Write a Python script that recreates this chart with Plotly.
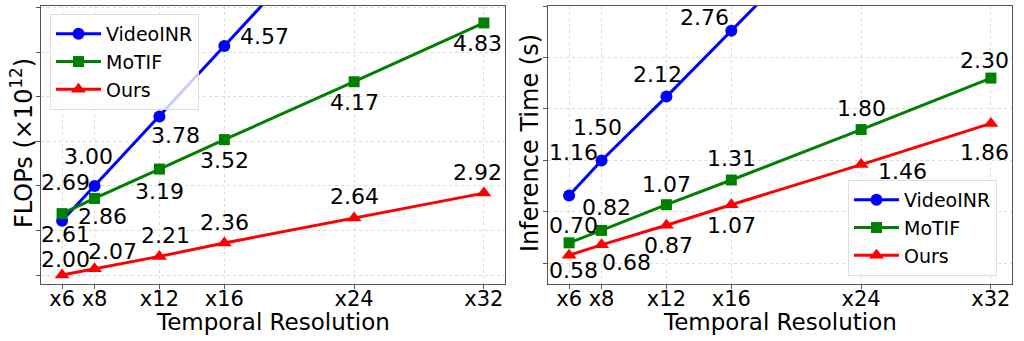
import plotly.graph_objects as go

scales = [6, 8, 12, 16, 24, 32]
tick_labels = ["x6", "x8", "x12", "x16", "x24", "x32"]

# FLOPs (x10^12); VideoINR beyond x16 runs off the top of the axis (estimated)
flops_videoinr = [2.61, 3.00, 3.78, 4.57, 6.15, 7.73]
flops_motif = [2.69, 2.86, 3.19, 3.52, 4.17, 4.83]
flops_ours = [2.00, 2.07, 2.21, 2.36, 2.64, 2.92]

# Inference time (s); VideoINR beyond x16 runs off the top of the axis (estimated)
time_videoinr = [1.16, 1.50, 2.12, 2.76, 4.04, 5.32]
time_motif = [0.70, 0.82, 1.07, 1.31, 1.80, 2.30]
time_ours = [0.58, 0.68, 0.87, 1.07, 1.46, 1.86]

# label offsets in screen px (dx, dy with dy downward)
off_flops = {
    "VideoINR": [(3, 14), (-6, -29), (16, 19), (40, -10), None, None],
    "MoTIF": [(3, -31), (8, 18), (0, 22), (0, 21), (0, 21), (-6, 21)],
    "Ours": [(3, -16), (18, -17), (6, -21), (0, -21), (0, -22), (-6, -21)],
}
off_time = {
    "VideoINR": [(4, -43), (-4, -33), (-9, -22), (-27, -13), None, None],
    "MoTIF": [(4, -17), (5, -23), (0, -20), (0, -22), (0, -21), (-6, -18)],
    "Ours": [(4, 15), (25, 18), (2, 20), (0, 21), (41, 7), (-6, 29)],
}

styles = {
    "VideoINR": dict(color="#0000ff", symbol="circle", size=12),
    "MoTIF": dict(color="#008000", symbol="square", size=11),
    "Ours": dict(color="#ff0000", symbol="triangle-up", size=13),
}

FONT = "DejaVu Sans"
fig = go.Figure()
annotations = []

panels = [
    ("x", "y", "legend", {"VideoINR": flops_videoinr, "MoTIF": flops_motif, "Ours": flops_ours}, off_flops),
    ("x2", "y2", "legend2", {"VideoINR": time_videoinr, "MoTIF": time_motif, "Ours": time_ours}, off_time),
]

for xa, ya, lg, series, offs in panels:
    for name, vals in series.items():
        st = styles[name]
        fig.add_trace(go.Scatter(
            x=scales, y=vals, name=name, mode="lines+markers",
            xaxis=xa, yaxis=ya, legend=lg,
            line=dict(color=st["color"], width=3),
            marker=dict(color=st["color"], symbol=st["symbol"], size=st["size"]),
        ))
        for xv, v, o in zip(scales, vals, offs[name]):
            if o is None:
                continue
            annotations.append(dict(
                x=xv, y=v, xref=xa, yref=ya, text=f"{v:.2f}", showarrow=False,
                xanchor="center", yanchor="middle", xshift=o[0], yshift=-o[1],
                font=dict(family=FONT, size=22, color="black"),
            ))

# axis titles
annotations += [
    dict(x=273 / 1024, y=1 - 322 / 341, xref="paper", yref="paper", text="Temporal Resolution",
         showarrow=False, xanchor="center", yanchor="middle", font=dict(family=FONT, size=23, color="black")),
    dict(x=780 / 1024, y=1 - 322 / 341, xref="paper", yref="paper", text="Temporal Resolution",
         showarrow=False, xanchor="center", yanchor="middle", font=dict(family=FONT, size=23, color="black")),
    dict(x=22 / 1024, y=1 - 143 / 341, xref="paper", yref="paper", text="FLOPs (×10<sup>12</sup>)",
         textangle=-90, showarrow=False, xanchor="center", yanchor="middle",
         font=dict(family=FONT, size=24, color="black")),
    dict(x=530 / 1024, y=1 - 143 / 341, xref="paper", yref="paper", text="Inference Time (s)",
         textangle=-90, showarrow=False, xanchor="center", yanchor="middle",
         font=dict(family=FONT, size=24, color="black")),
]

xcommon = dict(
    tickmode="array", tickvals=scales, ticktext=tick_labels, range=[4.7, 33.3],
    showgrid=True, gridcolor="#dddddd", griddash="dot", gridwidth=1,
    showline=True, linecolor="#555555", linewidth=1, mirror=True,
    ticks="outside", ticklen=4, tickcolor="#555555", ticklabelstandoff=-8,
    tickfont=dict(family=FONT, size=21, color="black"), zeroline=False,
)
ycommon = dict(
    showgrid=True, gridcolor="#dddddd", griddash="dot", gridwidth=1,
    showline=True, linecolor="#555555", linewidth=1, mirror=True,
    ticks="outside", ticklen=4, tickcolor="#555555", showticklabels=False,
    dtick=0.5, tick0=0, zeroline=False,
)

legend_common = dict(
    xanchor="left", yanchor="top", itemwidth=45,
    bgcolor="rgba(255,255,255,0.8)", bordercolor="#dddddd", borderwidth=1,
    font=dict(family=FONT, size=19, color="black"),
)

fig.update_layout(
    width=1024, height=341,
    margin=dict(l=0, r=0, t=0, b=0),
    plot_bgcolor="white", paper_bgcolor="white",
    font=dict(family=FONT, color="black"),
    xaxis=dict(domain=[41 / 1024, 505 / 1024], anchor="y", **xcommon),
    yaxis=dict(domain=[1 - 284 / 341, 1 - 6 / 341], anchor="x", range=[1.9, 5.02], **ycommon),
    xaxis2=dict(domain=[548 / 1024, 1012 / 1024], anchor="y2", **xcommon),
    yaxis2=dict(domain=[1 - 284 / 341, 1 - 6 / 341], anchor="x2", range=[0.3, 3.0], **ycommon),
    legend=dict(x=50 / 1024, y=1 - 14 / 341, **legend_common),
    legend2=dict(x=848 / 1024, y=1 - 180 / 341, **legend_common),
    annotations=annotations,
    showlegend=True,
)

fig.write_html("out.html")
